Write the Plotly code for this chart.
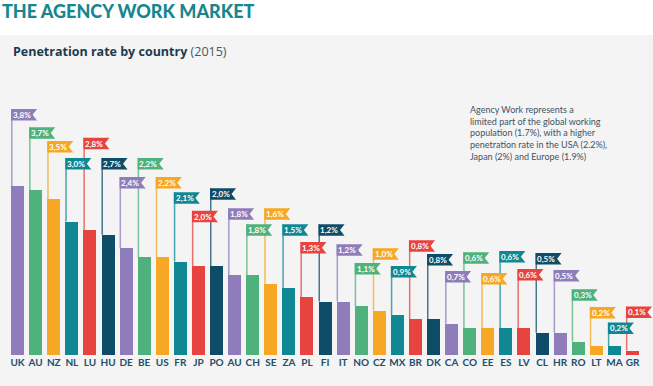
import plotly.graph_objects as go

countries = ["UK", "AU", "NZ", "NL", "LU", "HU", "DE", "BE", "US", "FR", "JP", "PO",
             "AU", "CH", "SE", "ZA", "PL", "FI", "IT", "NO", "CZ", "MX", "BR", "DK",
             "CA", "CO", "EE", "ES", "LV", "CL", "HR", "RO", "LT", "MA", "GR"]
rates = [3.8, 3.7, 3.5, 3.0, 2.8, 2.7, 2.4, 2.2, 2.2, 2.1, 2.0, 2.0,
         1.8, 1.8, 1.6, 1.5, 1.3, 1.2, 1.2, 1.1, 1.0, 0.9, 0.8, 0.8,
         0.7, 0.6, 0.6, 0.6, 0.6, 0.5, 0.5, 0.3, 0.2, 0.2, 0.1]
# height (in % units of the y axis) of the top of each label flag
flag_levels = [5.53, 5.12, 4.81, 4.43, 4.88, 4.43, 4.00, 4.43, 4.00, 3.66, 3.24, 3.75,
               3.30, 2.94, 3.30, 2.94, 2.54, 2.94, 2.49, 2.07, 2.40, 2.00, 2.58, 2.27,
               1.89, 2.31, 1.84, 2.34, 1.93, 2.29, 1.91, 1.48, 1.08, 0.73, 1.09]

palette = ["#8F7DBB", "#4FB17C", "#F6A723", "#108894", "#E74440", "#0F4C68"]

W, H = 653, 386
L, R, T, B = 8, 0, 95, 31
PW, PH = W - L - R, H - T - B
UX = 18.086  # px per category slot
XR = [-0.53, -0.53 + PW / UX]
YR = [0, 5.843]
ux = PW / (XR[1] - XR[0])
uy = PH / (YR[1] - YR[0])

idx = list(range(len(countries)))
colors = [palette[i % len(palette)] for i in idx]
bw = 13 / ux

fig = go.Figure()
fig.add_trace(go.Bar(x=idx, y=rates, width=bw, marker=dict(color=colors, line=dict(width=0)),
                     hoverinfo="skip"))


def px_to_paper_x(px):
    return (px - L) / PW


def px_to_paper_y(py):
    return (H - B - py) / PH


shapes = []
annotations = []
# white header band above the grey panel
shapes.append(dict(type="rect", xref="paper", yref="paper", x0=-0.1, x1=1.1,
                   y0=px_to_paper_y(35), y1=px_to_paper_y(-5), fillcolor="white",
                   line=dict(width=0), layer="below"))

fw, fn, fh = 26 / ux, 4.5 / ux, 11.5 / uy
for i, (v, top, c) in enumerate(zip(rates, flag_levels, colors)):
    x0 = i - bw / 2
    shapes.append(dict(type="line", xref="x", yref="y", x0=x0 + 0.7 / ux, x1=x0 + 0.7 / ux,
                       y0=v, y1=top, line=dict(color=c, width=1.5), opacity=0.75, layer="below"))
    bot = top - fh
    mid = (top + bot) / 2
    path = (f"M {x0},{bot} L {x0},{top} L {x0 + fw},{top} L {x0 + fw - fn},{mid} "
            f"L {x0 + fw},{bot} Z")
    shapes.append(dict(type="path", xref="x", yref="y", path=path, fillcolor=c,
                       line=dict(width=0), layer="above"))
    annotations.append(dict(x=x0 + 10.8 / ux, y=mid, xref="x", yref="y",
                            text=f"<b>{v:.1f}%</b>".replace(".", ","), showarrow=False,
                            xanchor="center", yanchor="middle",
                            font=dict(family="Lato", size=8, color="white")))

annotations.append(dict(x=px_to_paper_x(0), y=px_to_paper_y(11), xref="paper", yref="paper",
                        text="THE AGENCY WORK MARKET", showarrow=False,
                        xanchor="left", yanchor="middle",
                        font=dict(family="Lato", size=18, color="#17878F", weight=900)))
annotations.append(dict(x=px_to_paper_x(11), y=px_to_paper_y(52), xref="paper", yref="paper",
                        text="<b>Penetration rate by country</b> <span style='color:#4A5560'>(2015)</span>",
                        showarrow=False, xanchor="left", yanchor="middle",
                        font=dict(family="Open Sans", size=12.5, color="#1B3A4E")))
annotations.append(dict(x=px_to_paper_x(468), y=px_to_paper_y(102), xref="paper", yref="paper",
                        text=("Agency Work represents a<br>limited part of the global working<br>"
                              "population (1.7%), with a higher<br>penetration rate in the USA (2.2%),<br>"
                              "Japan (2%) and Europe (1.9%)"),
                        showarrow=False, xanchor="left", yanchor="top", align="left",
                        font=dict(family="Lato", size=9, color="#3E5363")))

fig.update_layout(
    width=W, height=H,
    margin=dict(l=L, r=R, t=T, b=B, pad=0),
    paper_bgcolor="#F4F4F4", plot_bgcolor="#F4F4F4",
    showlegend=False, bargap=0,
    shapes=shapes, annotations=annotations,
    xaxis=dict(range=XR, tickmode="array", tickvals=idx, ticktext=countries,
               showgrid=False, zeroline=False, showline=False, ticks="",
               tickfont=dict(family="Lato", size=10, color="#1D4E6B", weight="bold"),
               fixedrange=True),
    yaxis=dict(range=YR, visible=False, fixedrange=True),
)

fig.write_html("out.html", config={"displayModeBar": False},
               post_script="document.body.style.margin='0';document.body.style.overflow='hidden';")
